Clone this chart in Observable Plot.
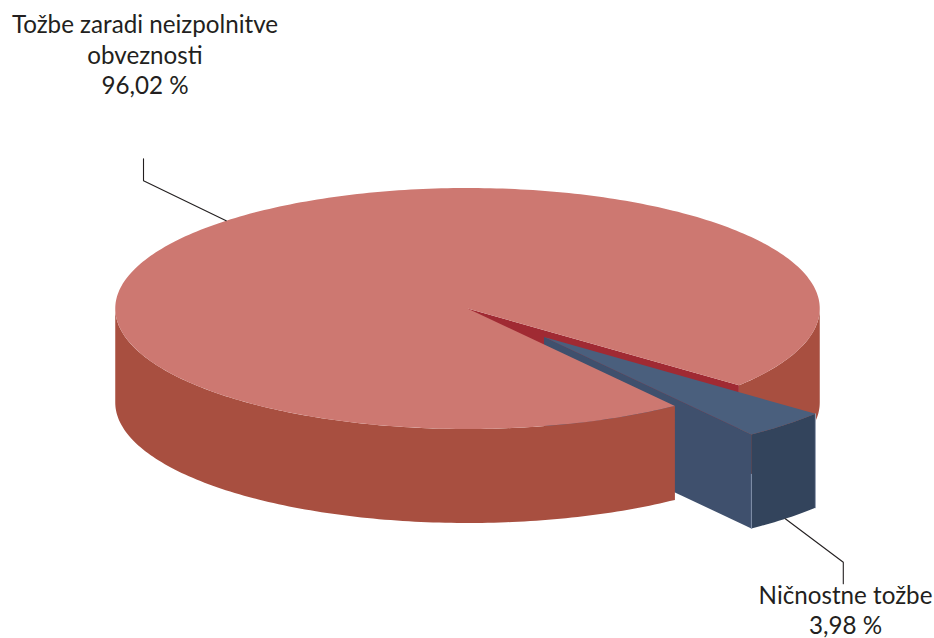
<!DOCTYPE html>
<html><head><meta charset="utf-8">
<script src="https://cdn.jsdelivr.net/npm/d3@7"></script>
<script src="https://cdn.jsdelivr.net/npm/@observablehq/plot@0.6"></script>
<style>html,body{margin:0;padding:0;background:#fff}svg{display:block}</style>
</head><body><div id="chart"></div>
<script>
const categories = ["Tožbe zaradi neizpolnitve obveznosti", "Ničnostne tožbe"];
const shares = [96.02, 3.98];
const shareLabels = ["96,02 %", "3,98 %"];

// 3D pie layout
const W = 934, H = 638;
const cx = 467, cy = 308, rx = 352.25, ry = 120.5, depth = 94;
const gapStart = 39.6;             // degrees clockwise from 3 o'clock
const explodeX = 76.5, explodeY = 28.5;

const rad = d => d * Math.PI / 180;
const gapEnd = gapStart + shares[1] / 100 * 360;
const pt = (a, ox = 0, oy = 0) => ({x: cx + ox + rx * Math.cos(rad(a)), y: cy + oy + ry * Math.sin(rad(a))});
const arc = (a0, a1, ox = 0, oy = 0) => {
  const n = Math.max(2, Math.ceil(Math.abs(a1 - a0)));
  return d3.range(n + 1).map(i => pt(a0 + (a1 - a0) * i / n, ox, oy));
};
const band = (a0, a1, ox = 0, oy = 0) =>
  [...arc(a0, a1, ox, oy), ...arc(a1, a0, ox, oy + depth)];
const center = (ox = 0, oy = 0) => ({x: cx + ox, y: cy + oy});
const down = p => ({x: p.x, y: p.y + depth});
const poly = (pts, fill) => Plot.line(pts, {x: "x", y: "y", fill, stroke: "none", curve: "linear"});

const pink = "#cd7871", brick = "#a84f40", wine = "#a02a33";
const blueTop = "#4a5f7d", blueSide = "#3f506d", blueEnd = "#33445c";

const ex = explodeX, ey = explodeY;
const bA = pt(gapStart, ex, ey), bB = pt(gapEnd, ex, ey), bC = center(ex, ey);

// leaders start at the mid-angle of each slice's rim
const midMain = (gapEnd + gapStart + 360) / 2, midBlue = (gapStart + gapEnd) / 2;
const l0 = pt(midMain), l1 = down(pt(midBlue, ex, ey));
const leaderMain = [l0, {x: l0.x - 82.7, y: l0.y - 40}, {x: l0.x - 82.7, y: l0.y - 62}];
const leaderBlue = [l1, {x: l1.x + 58, y: l1.y + 43.4}, {x: l1.x + 58, y: l1.y + 65}];

const textRows = [
  {x: 144.5, y: 25, t: "Tožbe zaradi neizpolnitve"},
  {x: 144.5, y: 55.5, t: "obveznosti"},
  {x: 144.5, y: 86, t: shareLabels[0]},
  {x: 845, y: 596, t: categories[1]},
  {x: 845, y: 626, t: shareLabels[1]}
];

const chart = Plot.plot({
  width: W, height: H, margin: 0,
  x: {domain: [0, W], range: [0, W], axis: null},
  y: {domain: [0, H], range: [0, H], axis: null},
  style: {background: "white"},
  marks: [
    poly(band(0, gapStart), brick),
    poly([center(), pt(gapStart), down(pt(gapStart)), down(center())], wine),
    poly([bC, bB, down(bB), down(bC)], blueSide),
    poly(band(gapStart, gapEnd, ex, ey), blueEnd),
    Plot.line([{x: bB.x, y: bB.y + 40}, down(bB)], {x: "x", y: "y", stroke: "#7f8fa8", strokeWidth: 1}),
    Plot.line([bA, down(bA)], {x: "x", y: "y", stroke: "#9aa5b8", strokeWidth: 1}),
    poly([bC, ...arc(gapStart, gapEnd, ex, ey)], blueTop),
    poly(band(gapEnd, 180), brick),
    poly([center(), ...arc(gapEnd, gapStart + 360)], pink),
    Plot.line(leaderMain, {x: "x", y: "y", stroke: "#231f20", strokeWidth: 1.1, curve: "linear"}),
    Plot.line(leaderBlue, {x: "x", y: "y", stroke: "#231f20", strokeWidth: 1.1, curve: "linear"}),
    Plot.text(textRows, {x: "x", y: "y", text: "t", fill: "#231f20", fontSize: 24.2,
      fontFamily: "Lato", textAnchor: "middle"})
  ]
});
document.getElementById("chart").append(chart);
</script></body></html>
